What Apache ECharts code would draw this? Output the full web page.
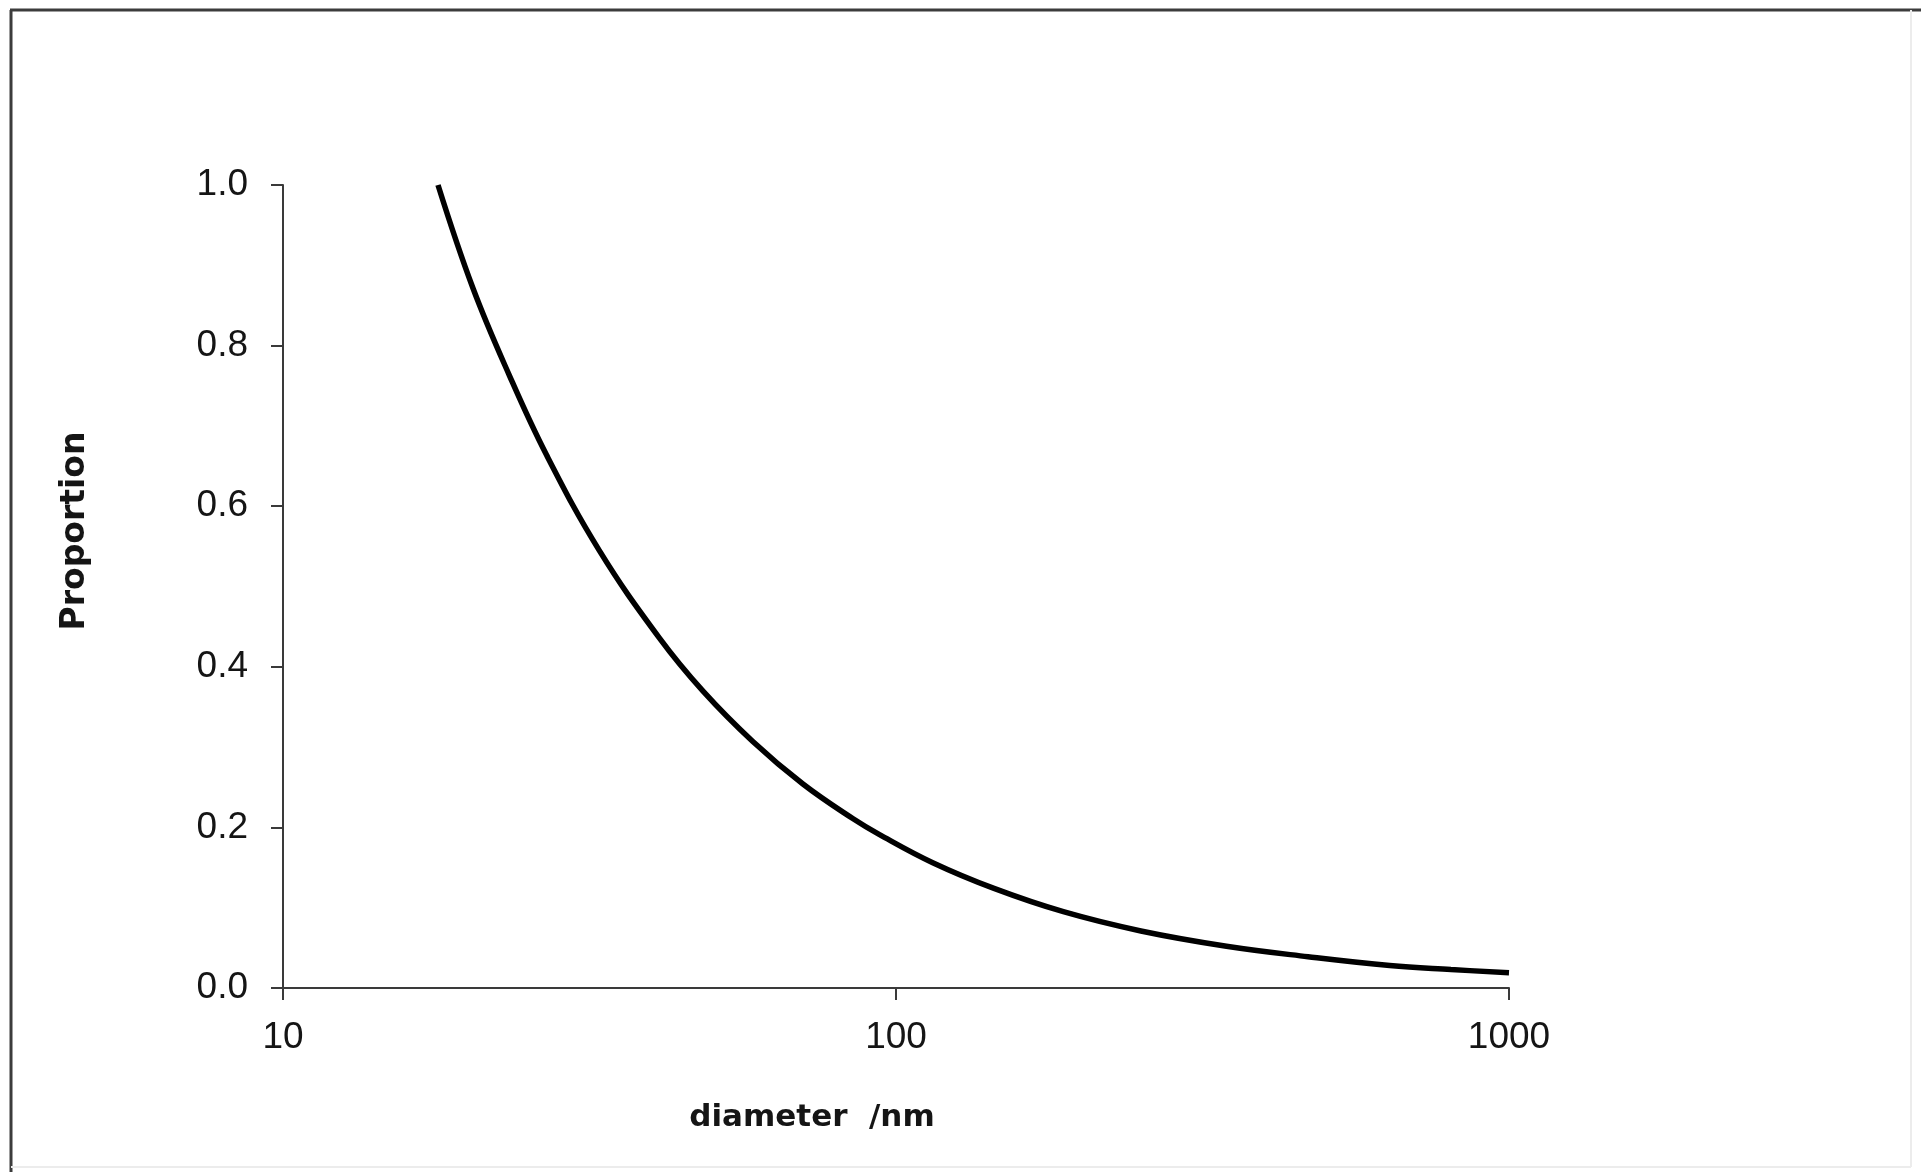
<!DOCTYPE html>
<html>
<head>
<meta charset="utf-8">
<title>Proportion vs diameter</title>
<script src="https://cdn.jsdelivr.net/npm/echarts@6/dist/echarts.min.js"></script>
<style>
  html, body { margin: 0; padding: 0; background: #ffffff; }
  #chart { width: 1921px; height: 1172px; }
</style>
</head>
<body>
<div id="chart"></div>
<script>
// particle diameter (nm) and the matching proportion
const diameter = [17.9, 20.4, 23.4, 26.9, 32.8, 41.1, 48.4, 58.4, 70.5, 85, 94, 114.8, 144.5, 187.5, 250.9, 346, 470, 639, 804, 1000];
const proportion = [1.0, 0.872, 0.763, 0.664, 0.545, 0.436, 0.370, 0.307, 0.254, 0.211, 0.191, 0.156, 0.124, 0.095, 0.071, 0.052, 0.039, 0.028, 0.023, 0.019];

const xTicks = [10, 100, 1000];
const yTicks = [0, 0.2, 0.4, 0.6, 0.8, 1.0];

const xTitle = 'diameter  /nm';
const yTitle = 'Proportion';

const points = diameter.map((d, i) => [d, proportion[i]]);

const chart = echarts.init(document.getElementById('chart'), null, { renderer: 'canvas' });

const axisColor = '#3a3a3a';
const labelFont = { fontFamily: 'Liberation Sans', fontSize: 37, color: '#151515' };
const titleFont = { fontFamily: 'DejaVu Sans', fontWeight: 'bold', fill: '#151515' };

chart.setOption({
  backgroundColor: '#ffffff',
  animation: false,
  grid: {
    left: 283,
    right: 412,
    top: 185,
    bottom: 184,
    containLabel: false,
    outerBoundsMode: 'none'
  },
  xAxis: {
    type: 'log',
    logBase: 10,
    min: xTicks[0],
    max: xTicks[xTicks.length - 1],
    splitLine: { show: false },
    minorTick: { show: false },
    axisLine: { show: true, lineStyle: { color: axisColor, width: 2 } },
    axisTick: { show: true, inside: false, length: 12, lineStyle: { color: axisColor, width: 2 } },
    axisLabel: Object.assign({ margin: 31, formatter: v => String(Math.round(v)) }, labelFont)
  },
  yAxis: {
    type: 'value',
    min: yTicks[0],
    max: yTicks[yTicks.length - 1],
    interval: 0.2,
    splitLine: { show: false },
    axisLine: { show: true, lineStyle: { color: axisColor, width: 2 } },
    axisTick: { show: true, inside: false, length: 12, lineStyle: { color: axisColor, width: 2 } },
    axisLabel: Object.assign({ margin: 35, padding: [10, 0, 0, 0], formatter: v => v.toFixed(1) }, labelFont)
  },
  series: [{
    type: 'line',
    data: points,
    smooth: 0.4,
    showSymbol: false,
    clip: false,
    lineStyle: { color: '#000000', width: 5.5 }
  }],
  graphic: [
    // window frame
    { type: 'line', shape: { x1: 11, y1: 10, x2: 11, y2: 1172 }, style: { stroke: '#3c3c3c', lineWidth: 3 } },
    { type: 'line', shape: { x1: 10, y1: 10, x2: 1921, y2: 10 }, style: { stroke: '#3c3c3c', lineWidth: 3 } },
    { type: 'line', shape: { x1: 1911, y1: 10, x2: 1911, y2: 1167 }, style: { stroke: '#ececec', lineWidth: 2 } },
    { type: 'line', shape: { x1: 11, y1: 1167, x2: 1911, y2: 1167 }, style: { stroke: '#ececec', lineWidth: 2 } },
    // axis titles
    {
      type: 'text', x: 812, y: 1118,
      style: Object.assign({ text: xTitle, fontSize: 31, textAlign: 'center', textVerticalAlign: 'middle' }, titleFont)
    },
    {
      type: 'text', x: 75, y: 531, rotation: Math.PI / 2,
      style: Object.assign({ text: yTitle, fontSize: 33, textAlign: 'center', textVerticalAlign: 'middle' }, titleFont)
    }
  ]
});
</script>
</body>
</html>
